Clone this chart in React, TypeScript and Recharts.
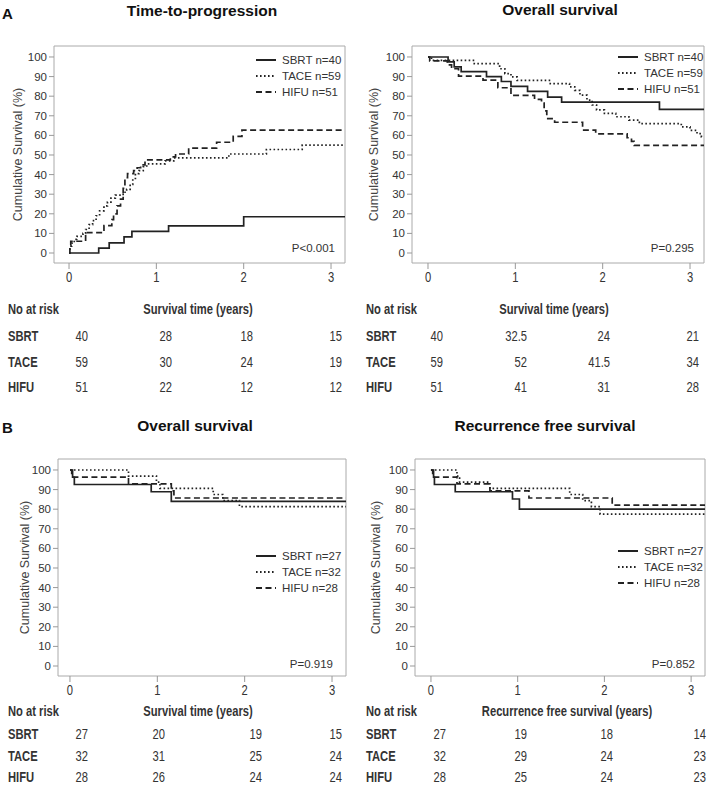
import { Legend, Line, LineChart, ReferenceArea, XAxis, YAxis } from "recharts";

const FONT = "'Liberation Sans', Arial, sans-serif";
const INK = "#333";
const NARROW = 0.8; // horizontal squeeze to mimic Arial Narrow

const groups = ["SBRT", "TACE", "HIFU"];
const years = [0, 1, 2, 3];
const yTicks = [0, 10, 20, 30, 40, 50, 60, 70, 80, 90, 100];

// Kaplan-Meier steps as [years, percent]
const ttpSbrt = [[0, 0], [0.34, 2.5], [0.46, 5.2], [0.63, 8.2], [0.72, 11], [1.14, 13.8], [2.0, 18.5], [3.17, 18.5]];
const ttpTace = [[0, 0], [0.01, 3.5], [0.03, 5], [0.06, 7], [0.09, 8.5], [0.16, 10], [0.19, 12], [0.23, 14.5], [0.27, 16.5], [0.31, 19], [0.35, 21.5], [0.4, 24], [0.44, 26], [0.48, 28], [0.53, 29.5], [0.62, 31], [0.66, 32.5], [0.7, 35], [0.73, 38], [0.76, 40.5], [0.8, 42], [0.85, 44], [0.89, 45.5], [1.1, 47], [1.2, 48.5], [1.83, 50.5], [2.26, 52.8], [2.67, 55], [3.17, 55]];
const ttpHifu = [[0, 0], [0.01, 4], [0.02, 6], [0.19, 10.4], [0.4, 14], [0.49, 17], [0.51, 20], [0.55, 24], [0.59, 27.5], [0.62, 33], [0.64, 38.5], [0.67, 40.5], [0.74, 42], [0.78, 43.5], [0.82, 45], [0.87, 47.5], [1.16, 49], [1.22, 50.5], [1.37, 53.5], [1.69, 56.5], [1.88, 59.5], [1.98, 62.7], [3.17, 62.7]];

const osSbrt = [[0, 100], [0.23, 97.5], [0.3, 95], [0.38, 92.5], [0.67, 90], [0.84, 87.5], [0.95, 85], [1.14, 82.5], [1.37, 79.5], [1.53, 77], [2.65, 73.3], [3.17, 73.3]];
const osTace = [[0, 100], [0.04, 98.3], [0.53, 96.6], [0.82, 94], [0.88, 91.5], [0.95, 89.8], [1.02, 88.1], [1.4, 86.4], [1.62, 84.7], [1.68, 83], [1.74, 80.5], [1.82, 78], [1.88, 75.5], [1.93, 73], [2.02, 71.2], [2.15, 69.5], [2.3, 67.8], [2.42, 66], [2.9, 64.3], [3.0, 62.6], [3.08, 60.9], [3.13, 59.2], [3.17, 59.2]];
const osHifu = [[0, 100], [0.02, 98], [0.22, 96], [0.27, 94], [0.35, 90.2], [0.63, 88.2], [0.8, 84.3], [0.95, 80.4], [1.22, 78.4], [1.3, 76.5], [1.33, 72.5], [1.36, 68.6], [1.45, 66.7], [1.77, 62.7], [1.92, 60.8], [2.28, 58.8], [2.33, 56.9], [2.36, 54.9], [3.17, 54.9]];

const os2Sbrt = [[0, 100], [0.03, 96.3], [0.05, 92.6], [0.93, 88.9], [1.16, 84], [3.17, 84]];
const os2Tace = [[0, 100], [0.67, 96.9], [0.99, 93.8], [1.03, 90.6], [1.64, 87.5], [1.75, 84.4], [1.94, 81.3], [3.17, 81.3]];
const os2Hifu = [[0, 100], [0.02, 96.4], [0.67, 92.9], [1.16, 89.3], [1.19, 85.7], [3.17, 85.7]];

const rfsSbrt = [[0, 100], [0.03, 96.3], [0.04, 92.6], [0.28, 88.9], [0.94, 85.2], [1.02, 80], [3.17, 80]];
const rfsTace = [[0, 100], [0.3, 96.9], [0.33, 93.8], [0.68, 90.6], [1.6, 87.5], [1.75, 84.4], [1.85, 81.3], [1.95, 77.5], [3.17, 77.5]];
const rfsHifu = [[0, 100], [0.02, 96.4], [0.3, 92.9], [0.68, 89.3], [1.13, 85.7], [2.09, 82.1], [3.17, 82.1]];

// numbers at risk (rows SBRT, TACE, HIFU at 0,1,2,3 years)
const riskTtp = [["40", "28", "18", "15"], ["59", "30", "24", "19"], ["51", "22", "12", "12"]];
const riskOs = [["40", "32.5", "24", "21"], ["59", "52", "41.5", "34"], ["51", "41", "31", "28"]];
const riskOs2 = [["27", "20", "19", "15"], ["32", "31", "25", "24"], ["28", "26", "24", "24"]];
const riskRfs = [["27", "19", "18", "14"], ["32", "29", "24", "23"], ["28", "25", "24", "23"]];

const dashes = ["", "1.6 2.4", "6 3.5"];
const X_MAX = 3.16;
const Y_MIN = -5.1;
const Y_MAX = 105.6;

const toPts = (a: number[][]) => a.map(([t, v]) => ({ t, v }));

function NarrowText({ x, y, anchor = "start", bold = false, children }: any) {
  return (
    <text transform={`translate(${x} ${y}) scale(${NARROW} 1)`} textAnchor={anchor} dominantBaseline="central" fontFamily={FONT} fontSize={14} fontWeight={bold ? "bold" : "normal"} fill={INK}>
      {children}
    </text>
  );
}

function XTick({ x, y, payload }: any) {
  return <NarrowText x={x} y={y + 7} anchor="middle">{payload.value}</NarrowText>;
}

function KMPanel({ left, top, width, axisW, mr, xMin, curves, ns, legendLeft, legendTop, labelX }: any) {
  const yLabel = ({ viewBox }: any) => {
    const cy = viewBox.y + viewBox.height / 2;
    return (
      <text x={labelX} y={cy} transform={`rotate(-90 ${labelX} ${cy})`} textAnchor="middle" dominantBaseline="central" fill="#444" fontSize={12.5} fontFamily={FONT}>
        Cumulative Survival (%)
      </text>
    );
  };
  const legendBox = () => (
    <div style={{ fontFamily: FONT, fontSize: 11.5, color: INK }}>
      {groups.map((g, i) => (
        <div key={g} style={{ display: "flex", alignItems: "center", height: 16 }}>
          <svg width={22} height={6}>
            <line x1={1} y1={3} x2={21} y2={3} stroke="#222" strokeWidth={2} strokeDasharray={dashes[i]} />
          </svg>
          <span style={{ marginLeft: 5 }}>{`${g} n=${ns[i]}`}</span>
        </div>
      ))}
    </div>
  );
  return (
    <div style={{ position: "absolute", left, top }}>
      <LineChart width={width} height={290} margin={{ top: 46, right: mr, bottom: 3, left: 0 }}>
        <ReferenceArea x1={xMin} x2={X_MAX} y1={Y_MIN} y2={Y_MAX} fill="none" stroke="#aaa" strokeWidth={1} />
        <XAxis type="number" dataKey="t" domain={[xMin, X_MAX]} ticks={years} allowDataOverflow height={24} axisLine={false} tickSize={6} tickLine={{ stroke: "#999" }} tick={<XTick />} />
        <YAxis type="number" domain={[Y_MIN, Y_MAX]} ticks={yTicks} allowDataOverflow width={axisW} axisLine={false} tickSize={5} tickMargin={2} tickLine={{ stroke: "#999" }} tick={{ fill: INK, fontSize: 11.5, fontFamily: FONT }} label={{ content: yLabel }} />
        {curves.map((c: number[][], i: number) => (
          <Line key={groups[i]} data={toPts(c)} dataKey="v" name={`${groups[i]} n=${ns[i]}`} type="stepAfter" stroke="#222" strokeWidth={1.7} strokeDasharray={dashes[i] || undefined} dot={false} activeDot={false} isAnimationActive={false} />
        ))}
        <Legend layout="vertical" align="center" verticalAlign="middle" wrapperStyle={{ left: legendLeft, top: legendTop, width: 100, height: 48 }} content={legendBox} />
      </LineChart>
    </div>
  );
}

function RiskTable({ ys, labelX, rights, titleX, title, rows }: any) {
  return (
    <>
      <NarrowText x={labelX} y={ys[0]} bold>No at risk</NarrowText>
      <NarrowText x={titleX} y={ys[0]} anchor="middle" bold>{title}</NarrowText>
      {rows.map((r: string[], i: number) => (
        <g key={i}>
          <NarrowText x={labelX} y={ys[i + 1]} bold>{groups[i]}</NarrowText>
          {r.map((v, j) => (
            <NarrowText key={j} x={rights[j]} y={ys[i + 1]} anchor="end">{v}</NarrowText>
          ))}
        </g>
      ))}
    </>
  );
}

export default function App() {
  const titleStyle = { fontFamily: FONT, fontSize: 15.5, fontWeight: "bold" as const, fill: "#111", textAnchor: "middle" as const, dominantBaseline: "central" as const };
  const pStyle = { fontFamily: FONT, fontSize: 11.5, fill: INK, textAnchor: "end" as const, dominantBaseline: "central" as const };
  const rowsA = [310, 337, 363, 388];
  const rowsB = [712, 735, 757, 778];
  return (
    <div style={{ position: "absolute", left: 0, top: 0, width: 709, height: 787, background: "#fff", overflow: "hidden" }}>
      <KMPanel left={0} top={0} width={354} axisW={54} mr={9} xMin={-0.172} curves={[ttpSbrt, ttpTace, ttpHifu]} ns={[40, 59, 51]} legendLeft={255} legendTop={52} labelX={18} />
      <KMPanel left={354} top={0} width={355} axisW={58} mr={5} xMin={-0.183} curves={[osSbrt, osTace, osHifu]} ns={[40, 59, 51]} legendLeft={263} legendTop={49} labelX={20} />
      <KMPanel left={0} top={413} width={354} axisW={58} mr={8} xMin={-0.137} curves={[os2Sbrt, os2Tace, os2Hifu]} ns={[27, 32, 28]} legendLeft={255} legendTop={135} labelX={25} />
      <KMPanel left={354} top={413} width={355} axisW={61} mr={4} xMin={-0.184} curves={[rfsSbrt, rfsTace, rfsHifu]} ns={[27, 32, 28]} legendLeft={263} legendTop={130} labelX={22} />
      <svg width={709} height={787} style={{ position: "absolute", left: 0, top: 0, pointerEvents: "none" }}>
        <text x={2} y={13} fontFamily={FONT} fontSize={15} fontWeight="bold" fill="#111" dominantBaseline="central">A</text>
        <text x={2} y={427} fontFamily={FONT} fontSize={15} fontWeight="bold" fill="#111" dominantBaseline="central">B</text>
        <text x={202} y={10} {...titleStyle}>Time-to-progression</text>
        <text x={560} y={9} {...titleStyle}>Overall survival</text>
        <text x={195} y={425} {...titleStyle}>Overall survival</text>
        <text x={545} y={425} {...titleStyle}>Recurrence free survival</text>
        <text x={335} y={248} {...pStyle}>P&lt;0.001</text>
        <text x={694} y={248} {...pStyle}>P=0.295</text>
        <text x={333} y={664} {...pStyle}>P=0.919</text>
        <text x={695} y={664} {...pStyle}>P=0.852</text>
        <RiskTable ys={rowsA} labelX={8} rights={[88, 172, 253, 342]} titleX={198} title="Survival time (years)" rows={riskTtp} />
        <RiskTable ys={rowsA} labelX={366} rights={[443, 527, 610, 699]} titleX={554} title="Survival time (years)" rows={riskOs} />
        <RiskTable ys={rowsB} labelX={8} rights={[88, 165, 262, 342]} titleX={198} title="Survival time (years)" rows={riskOs2} />
        <RiskTable ys={rowsB} labelX={366} rights={[446, 527, 613, 706]} titleX={567} title="Recurrence free survival (years)" rows={riskRfs} />
      </svg>
    </div>
  );
}
